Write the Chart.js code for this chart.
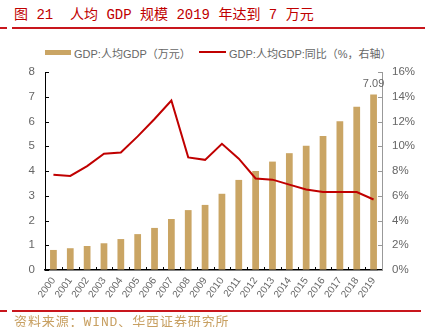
<!DOCTYPE html>
<html>
<head>
<meta charset="utf-8">
<script src="https://cdn.jsdelivr.net/npm/chart.js@4"></script>
<style>
  body{ margin:0; width:425px; height:327px; overflow:hidden; background:#fff; position:relative;
        font-family:'Liberation Sans','Noto Sans CJK SC',sans-serif; }
  #chartBox{ position:absolute; left:0; top:0; width:425px; height:327px; }
  .title{ position:absolute; left:14px; top:3px; font-size:14px; color:#c00000; white-space:pre;
          font-family:'Liberation Mono','Noto Sans CJK SC',monospace; }
  .rule{ position:absolute; height:2px; background:#c8161d; }
  .source{ position:absolute; left:14px; top:311px; font-size:13px; color:#c8a062; white-space:pre;
           letter-spacing:0.9px; font-family:'Liberation Mono','Noto Sans CJK SC',monospace; }
  .leg{ position:absolute; top:45px; font-size:11px; color:#666; white-space:pre; }
  .legBox{ position:absolute; }
</style>
</head>
<body>
<div class="title">图 21  人均 GDP 规模 2019 年达到 7 万元</div>
<div class="rule" style="left:0;top:27px;width:7px"></div>
<div class="rule" style="left:12px;top:27px;width:413px"></div>
<div class="rule" style="left:0;top:310px;width:7px"></div>
<div class="rule" style="left:12px;top:310px;width:409px"></div>

<div class="legBox" style="left:45px;top:50px;width:26px;height:5px;background:#caa564"></div>
<div class="leg" style="left:74px">GDP:人均GDP（万元）</div>
<div class="legBox" style="left:199px;top:51px;width:27px;height:2px;background:#c00000"></div>
<div class="leg" style="left:229px">GDP:人均GDP:同比（%，右轴）</div>

<div id="chartBox"><canvas id="chart" width="425" height="327"></canvas></div>
<div class="source">资料来源：WIND、华西证券研究所</div>

<script>
// data
const years = ['2000','2001','2002','2003','2004','2005','2006','2007','2008','2009',
               '2010','2011','2012','2013','2014','2015','2016','2017','2018','2019'];
const gdpPerCapita = [0.81,0.88,0.97,1.08,1.25,1.45,1.70,2.06,2.42,2.63,
                      3.08,3.64,4.00,4.38,4.72,5.02,5.41,6.01,6.60,7.09];
const growthPct = [7.7,7.6,8.4,9.4,9.5,10.8,12.2,13.7,9.1,8.9,
                   10.2,9.0,7.4,7.3,6.9,6.5,6.3,6.3,6.3,5.7];
const leftTicks = [0,1,2,3,4,5,6,7,8];
const rightTicks = [0,2,4,6,8,10,12,14,16];

const grey = '#666';
const font = "'Liberation Sans','Noto Sans CJK SC',sans-serif";

// ticks drawn inward + value label on last bar
const extras = {
  id: 'extras',
  afterDraw(chart){
    const ctx = chart.ctx, a = chart.chartArea;
    const x = chart.scales.x, yl = chart.scales.y, yr = chart.scales.y1;
    ctx.save();
    ctx.lineWidth = 1;
    ctx.strokeStyle = '#000';
    leftTicks.forEach(v=>{
      const py = Math.round(yl.getPixelForValue(v)) + 0.5;
      ctx.beginPath(); ctx.moveTo(a.left, py); ctx.lineTo(a.left + 4, py); ctx.stroke();
    });
    ctx.strokeStyle = '#999';
    rightTicks.forEach(v=>{
      const py = Math.round(yr.getPixelForValue(v)) + 0.5;
      ctx.beginPath(); ctx.moveTo(a.right - 4, py); ctx.lineTo(a.right, py); ctx.stroke();
    });
    ctx.strokeStyle = '#000';
    const step = x.getPixelForValue(1) - x.getPixelForValue(0);
    for(let i=1;i<years.length;i++){
      const px = Math.round(x.getPixelForValue(i) - step/2) + 0.5;
      ctx.beginPath(); ctx.moveTo(px, a.bottom); ctx.lineTo(px, a.bottom - 3); ctx.stroke();
    }
    // label on the last bar
    const meta = chart.getDatasetMeta(1);
    const last = meta.data[meta.data.length - 1];
    ctx.fillStyle = grey;
    ctx.font = '11px ' + font;
    ctx.textAlign = 'center';
    ctx.textBaseline = 'bottom';
    ctx.fillText(gdpPerCapita[gdpPerCapita.length-1].toFixed(2), last.x, last.y - 5);
    ctx.restore();
  }
};

new Chart(document.getElementById('chart'), {
  data: {
    labels: years,
    datasets: [
      { type:'line', label:'GDP:人均GDP:同比（%，右轴）', data: growthPct, yAxisID:'y1',
        borderColor:'#c00000', borderWidth:2, pointRadius:0, tension:0, order:0 },
      { type:'bar', label:'GDP:人均GDP（万元）', data: gdpPerCapita, yAxisID:'y',
        backgroundColor:'#caa564', categoryPercentage:1, barPercentage:0.4, order:1 }
    ]
  },
  options: {
    responsive:false,
    animation:false,
    layout:{ padding:{ top:72, left:0, right:0, bottom:0 } },
    plugins:{ legend:{ display:false }, tooltip:{ enabled:false } },
    scales:{
      x:{
        offset:true,
        grid:{ display:true, drawOnChartArea:false, drawTicks:false },
        border:{ display:true, color:'#000', width:1.5 },
        ticks:{ color:grey, font:{ size:10, family:font }, minRotation:54, maxRotation:54,
                autoSkip:false, padding:5 },
        afterFit(s){ s.height = 57; }
      },
      y:{
        position:'left', min:0, max:8,
        grid:{ drawOnChartArea:false, drawTicks:false },
        border:{ display:true, color:'#000', width:1 },
        ticks:{ stepSize:1, color:grey, font:{ size:11.5, family:font }, padding:10 },
        afterFit(s){ s.width = 45; }
      },
      y1:{
        position:'right', min:0, max:16,
        grid:{ drawOnChartArea:false, drawTicks:false },
        border:{ display:true, color:'#999', width:1 },
        ticks:{ stepSize:2, color:grey, font:{ size:11.5, family:font }, padding:10,
                callback:v=>v+'%' },
        afterFit(s){ s.width = 43; }
      }
    }
  },
  plugins:[extras]
});
</script>
</body>
</html>
